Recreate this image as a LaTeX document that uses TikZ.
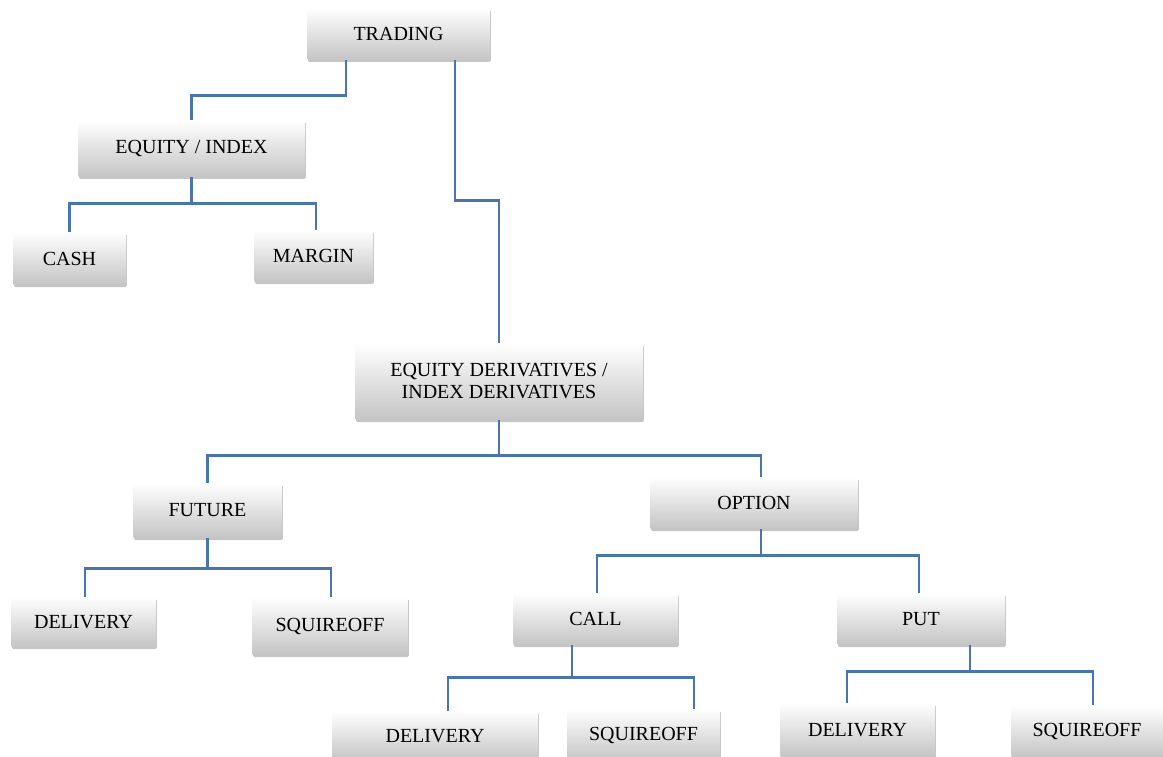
\documentclass[tikz,border=0pt]{standalone}
\usepackage{fontspec}
\setmainfont{Liberation Serif}
\usetikzlibrary{shadows,calc}
\tikzset{
  box/.style={rectangle, rounded corners=1.5pt, top color=white, bottom color=black!23,
    draw=none, font=\fontsize{20}{22}\selectfont, align=center, inner sep=0pt,
    drop shadow={opacity=0.45, shadow xshift=0.8pt, shadow yshift=-2pt}},
  conn/.style={draw={rgb,255:red,74;green,118;blue,176}, line width=2.8pt}
}
\begin{document}
\begin{tikzpicture}[x=1pt,y=-1pt]
\useasboundingbox (0,0) rectangle (1163,757);
% nodes: at (center) with width/height
\node[box, minimum width=183pt, minimum height=52pt] (trading) at (398.5,34) {TRADING};
\node[box, minimum width=227pt, minimum height=57pt] (eqidx) at (191.5,148.5) {EQUITY / INDEX};
\node[box, minimum width=113pt, minimum height=53pt] (cash) at (69.5,258.5) {CASH};
\node[box, minimum width=119pt, minimum height=52pt] (margin) at (313.5,256) {MARGIN};
\node[box, minimum width=288pt, minimum height=77pt] (eqder) at (499,381.5) {EQUITY DERIVATIVES /\\INDEX DERIVATIVES};
\node[box, minimum width=149pt, minimum height=55pt] (future) at (207.5,510.5) {FUTURE};
\node[box, minimum width=208pt, minimum height=52pt] (option) at (754,503) {OPTION};
\node[box, minimum width=145pt, minimum height=50pt] (delf) at (83.5,622) {DELIVERY};
\node[box, minimum width=156pt, minimum height=58pt] (sqf) at (330,626) {SQUIREOFF};
\node[box, minimum width=165pt, minimum height=52pt] (call) at (595.5,619) {CALL};
\node[box, minimum width=168pt, minimum height=52pt] (put) at (921,619) {PUT};
\node[box, minimum width=206pt, minimum height=50pt] (delc) at (435,736) {DELIVERY};
\node[box, minimum width=153pt, minimum height=52pt] (sqc) at (643.5,735) {SQUIREOFF};
\node[box, minimum width=155pt, minimum height=54pt] (delp) at (857.5,730) {DELIVERY};
\node[box, minimum width=152pt, minimum height=52pt] (sqp) at (1087,731) {SQUIREOFF};
% connectors
\draw[conn] ([xshift=-52.5pt]trading.south) -- ++(0,35) -| (eqidx.north);
\draw[conn] ([xshift=56.5pt]trading.south) -- ++(0,140) -| (eqder.north);
\draw[conn] (eqidx.south) -- ++(0,26) -| (cash.north);
\draw[conn] (eqidx.south) ++(0,26) -| ([xshift=2.5pt]margin.north);
\draw[conn] (eqder.south) -- ++(0,35) -| (future.north);
\draw[conn] (eqder.south) ++(0,35) -| ([xshift=7pt]option.north);
\draw[conn] (future.south) -- ++(0,30) -| ([xshift=1.5pt]delf.north);
\draw[conn] (future.south) ++(0,30) -| ([xshift=1pt]sqf.north);
\draw[conn] ([xshift=7pt]option.south) -- ++(0,26) -| ([xshift=1.5pt]call.north);
\draw[conn] ([xshift=7pt]option.south) ++(0,26) -| ([xshift=-2pt]put.north);
\draw[conn] ([xshift=-23.5pt]call.south) -- ++(0,32) -| ([xshift=13pt]delc.north);
\draw[conn] ([xshift=-23.5pt]call.south) ++(0,32) -| ([xshift=50.5pt]sqc.north);
\draw[conn] ([xshift=49pt]put.south) -- ++(0,26) -| ([xshift=-10.5pt]delp.north);
\draw[conn] ([xshift=49pt]put.south) ++(0,26) -| ([xshift=6pt]sqp.north);
\end{tikzpicture}
\end{document}
